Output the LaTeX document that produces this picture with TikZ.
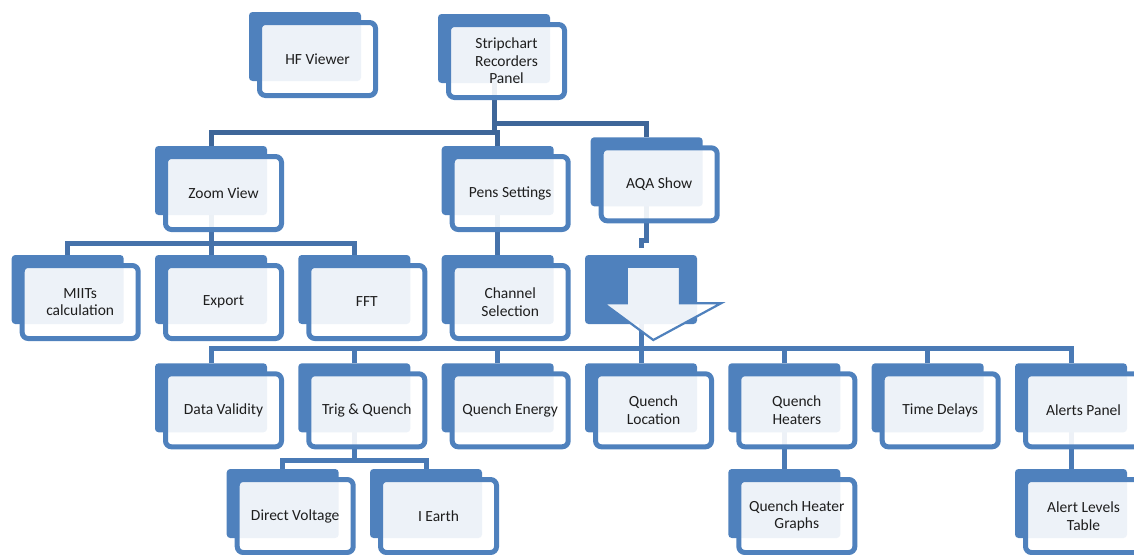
\documentclass[tikz,border=0pt]{standalone}
\usepackage{fontspec}
\setmainfont{Carlito}
\usetikzlibrary{calc}
\pgfdeclarelayer{background}
\pgfsetlayers{background,main}

\definecolor{boxblue}{HTML}{4F81BD}
\definecolor{linkdark}{HTML}{3E6699}
\definecolor{linkmid}{HTML}{4672AA}
\definecolor{linklight}{HTML}{4A7AB5}
\definecolor{labelgray}{HTML}{1E1E1E}

\tikzset{
  backbox/.style={fill=boxblue, draw=none, rounded corners=3.5pt,
    minimum width=112pt, minimum height=69pt, inner sep=0pt, outer sep=0pt,
    anchor=north west},
  frontbox/.style={draw=boxblue, line width=5pt, fill=white, fill opacity=0.9,
    text opacity=1, rounded corners=6pt, minimum width=116pt, minimum height=73pt,
    inner sep=0pt, outer sep=0pt, anchor=north west, align=center,
    text=labelgray, font=\fontsize{15.5}{17.5}\selectfont},
  arrowshape/.style={draw=boxblue, line width=2.2pt, fill=white, fill opacity=0.9,
    line join=miter},
  link/.style={line width=5pt, line join=miter},
  linkA/.style={link, draw=linkdark},
  linkB/.style={link, draw=linkmid},
  linkC/.style={link, draw=linklight},
}

% one bent tile: name, x, y (top-left of the back plate), label
\newcommand\tile[4]{%
  \node[backbox] (#1-b) at (#2,#3) {};
  \node[frontbox] (#1) at ({#2+10.5},{#3+10.5}) {#4};
}

\begin{document}
\begin{tikzpicture}[x=1pt,y=-1pt]
\useasboundingbox (0,0) rectangle (1134,554);

% top row
\tile{hf}{249}{12}{HF Viewer}
\tile{sc}{438}{14}{Stripchart\\Recorders\\Panel}
% second row
\tile{zv}{155}{146}{Zoom View}
\tile{pe}{441.7}{146}{Pens Settings}
\tile{aq}{590.7}{137.3}{AQA Show}
% third row
\tile{mi}{11.7}{255}{MIITs\\calculation}
\tile{ex}{155}{255}{Export}
\tile{ff}{298.3}{255}{FFT}
\tile{ch}{441.7}{255}{Channel\\Selection}
\node[backbox] (ar-b) at (585,255) {};
\draw[arrowshape] (626.7,266.7) -- (680,266.7) -- (680,303.3) -- (721,303.3)
  -- (653.3,340) -- (603.5,303.3) -- (626.7,303.3) -- cycle;
% fourth row
\tile{dv}{155}{363.3}{Data Validity}
\tile{tq}{298.3}{363.3}{Trig \& Quench}
\tile{qe}{441.7}{363.3}{Quench Energy}
\tile{ql}{585}{363.3}{Quench\\Location}
\tile{qh}{728.3}{363.3}{Quench\\Heaters}
\tile{td}{871.7}{363.3}{Time Delays}
\tile{al}{1015}{363.3}{Alerts Panel}
% fifth row
\tile{dvo}{226.7}{469}{Direct Voltage}
\tile{ie}{370}{469}{I Earth}
\tile{qg}{728.3}{469}{Quench Heater\\Graphs}
\tile{alt}{1015}{469}{Alert Levels\\Table}

% levels of the elbow bars
\coordinate (j0) at (0,123.3);
\coordinate (j1) at (0,132.7);
\coordinate (j2) at (0,243.3);
\coordinate (j3) at (0,240);
\coordinate (j4) at (0,348.3);
\coordinate (j5) at (0,460);

\begin{pgfonlayer}{background}
  % from the recorders panel
  \draw[linkA] (sc-b.south) -- (sc-b.south |- j1);
  \draw[linkA] (sc-b.south |- j0) -| (aq-b.north);
  \draw[linkA] (zv-b.north) |- (pe-b.north |- j1) -- (pe-b.north);
  % zoom view children
  \draw[linkB] (zv-b.south) -- (zv-b.south |- j2);
  \draw[linkB] (mi-b.north) |- (ff-b.north |- j2) -- (ff-b.north);
  \draw[linkB] (ex-b.north) -- (ex-b.north |- j2);
  % pens settings child
  \draw[linkB] (pe-b.south) -- (ch-b.north);
  % AQA show to the arrow
  \draw[linkB] (aq-b.south) -- (aq-b.south |- j3) -| ([yshift=7pt]ar-b.north);
  % arrow to the analysis tiles
  \draw[linkC] (ar-b.south) -- (ar-b.south |- j4);
  \draw[linkC] (dv-b.north) |- (al-b.north |- j4) -- (al-b.north);
  \foreach \n in {tq,qe,ql,qh,td}
    \draw[linkC] (\n-b.north) -- (\n-b.north |- j4);
  % trig & quench children
  \draw[linkC] (tq-b.south) -- (tq-b.south |- j5);
  \draw[linkC] (dvo-b.north) |- (ie-b.north |- j5) -- (ie-b.north);
  % single children
  \draw[linkC] (qh-b.south) -- (qg-b.north);
  \draw[linkC] (al-b.south) -- (alt-b.north);
\end{pgfonlayer}
\end{tikzpicture}
\end{document}
